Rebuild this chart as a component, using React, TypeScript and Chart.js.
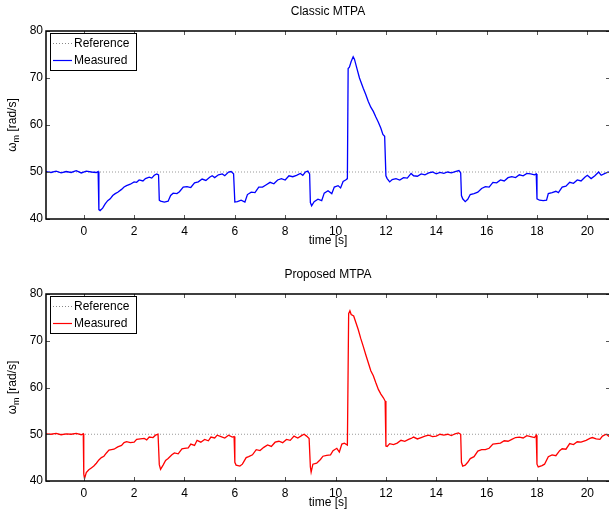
import { useEffect, useRef } from "react";
import { Chart, registerables } from "chart.js";

Chart.register(...registerables);

const xTicks = [0, 2, 4, 6, 8, 10, 12, 14, 16, 18, 20];
const yTicks = [40, 50, 60, 70, 80];
const xRange = [-1.5, 20.9];
const yRange = [40, 80];

const refTime = [-1.5, 20.9];
const refSpeed = [50, 50];

const classicTime = [
  -1.5, -1.3, -1.1, -0.9, -0.7, -0.5, -0.3, -0.1, 0.1, 0.3, 0.5, 0.57,
  0.6, 0.65, 0.75, 0.85, 0.95, 1.05, 1.15, 1.25, 1.35, 1.5, 1.6, 1.7, 1.85, 2.0, 2.1, 2.2, 2.35, 2.45, 2.6, 2.7, 2.8, 2.9, 2.97,
  3.0, 3.05, 3.2, 3.35, 3.45, 3.55, 3.7, 3.8, 3.95, 4.1, 4.25, 4.4, 4.55, 4.7, 4.85, 5.0, 5.1, 5.2, 5.35, 5.5, 5.6, 5.75, 5.85, 5.95,
  6.0, 6.1, 6.25, 6.4, 6.5, 6.65, 6.8, 6.95, 7.1, 7.25, 7.4, 7.55, 7.7, 7.85, 8.0, 8.15, 8.3, 8.45, 8.6, 8.7, 8.8, 8.9, 8.97,
  9.0, 9.05, 9.15, 9.3, 9.45, 9.55, 9.7, 9.85, 9.95, 10.1, 10.2, 10.3, 10.4, 10.47,
  10.5, 10.55, 10.62, 10.7, 10.75, 10.85, 10.95, 11.1, 11.2, 11.3, 11.4, 11.5, 11.6, 11.7, 11.8, 11.88, 11.95,
  12.0, 12.05, 12.15, 12.25, 12.4, 12.55, 12.7, 12.85, 13.0, 13.1, 13.25, 13.4, 13.55, 13.7, 13.85, 14.0, 14.15, 14.3, 14.45, 14.6, 14.75, 14.9, 14.97,
  15.0, 15.05, 15.15, 15.25, 15.35, 15.5, 15.65, 15.8, 15.95, 16.1, 16.25, 16.4, 16.55, 16.7, 16.85, 17.0, 17.15, 17.3, 17.45, 17.6, 17.75, 17.9, 17.97,
  18.0, 18.1, 18.25, 18.38, 18.45, 18.6, 18.75, 18.85, 19.0, 19.15, 19.3, 19.45, 19.6, 19.75, 19.9, 20.0, 20.15, 20.3, 20.45, 20.55, 20.7, 20.85, 20.9,
];
const classicSpeed = [
  50.1, 49.9, 50.2, 49.8, 50.1, 49.9, 50.3, 49.8, 50.2, 50.0, 49.9, 50.1,
  42.0, 41.8, 42.3, 43.2, 43.9, 44.3, 45.0, 45.4, 45.7, 46.3, 46.8, 47.1, 47.4, 47.9, 47.8, 48.3, 48.1, 48.6, 48.9, 48.7, 49.3, 49.6, 49.4,
  44.0, 43.8, 43.6, 43.8, 45.0, 45.5, 45.4, 45.8, 46.8, 46.9, 46.7, 47.7, 47.9, 48.5, 48.2, 48.9, 49.2, 48.8, 49.4, 49.6, 49.2, 50.0, 50.1, 49.6,
  43.6, 43.7, 44.0, 43.6, 45.2, 45.7, 45.6, 46.8, 46.8, 47.3, 47.8, 47.5, 48.3, 48.6, 48.3, 49.2, 49.0, 49.3, 49.7, 49.3, 50.0, 50.2, 49.6,
  43.5, 42.8, 43.7, 44.2, 43.9, 45.5, 46.0, 45.4, 46.8, 47.1, 46.6, 48.0, 48.3, 48.6,
  72.0, 72.3, 73.5, 74.5, 74.0, 72.0, 70.0, 67.8, 66.5, 65.0, 63.8, 62.9, 61.7, 60.6, 59.3, 58.0, 57.6,
  49.2, 48.6, 47.9, 48.4, 48.6, 48.3, 48.8, 48.7, 49.7, 49.2, 49.1, 49.6, 49.4, 49.8, 50.0, 49.6, 49.9, 49.7, 50.0, 49.8, 50.1, 50.3, 49.8,
  45.0, 44.3, 43.7, 44.2, 45.2, 45.4, 45.7, 46.5, 46.9, 46.8, 47.8, 47.7, 48.3, 48.1, 48.8, 49.0, 48.8, 49.4, 49.2, 49.7, 49.6, 49.4, 49.6,
  44.3, 44.0, 43.9, 44.0, 45.4, 45.6, 45.9, 45.6, 46.8, 47.0, 47.8, 47.6, 48.3, 48.1, 48.9, 49.3, 48.6, 49.2, 50.0, 49.3, 49.7, 50.0, 49.8,
];

const proposedTime = [
  -1.5, -1.3, -1.1, -0.9, -0.7, -0.5, -0.3, -0.1, -0.02,
  0.0, 0.03, 0.1, 0.2, 0.3, 0.4, 0.5, 0.6, 0.7, 0.8, 0.9, 1.0, 1.1, 1.2, 1.35, 1.5, 1.6, 1.7, 1.85, 2.0, 2.1, 2.25, 2.4, 2.5, 2.6, 2.75, 2.85, 2.95,
  3.0, 3.05, 3.15, 3.25, 3.35, 3.5, 3.6, 3.75, 3.9, 4.0, 4.15, 4.25, 4.4, 4.5, 4.65, 4.8, 4.95, 5.05, 5.2, 5.3, 5.45, 5.6, 5.75, 5.9, 5.97,
  6.0, 6.05, 6.2, 6.3, 6.45, 6.55, 6.7, 6.85, 7.0, 7.15, 7.3, 7.45, 7.6, 7.75, 7.9, 8.05, 8.2, 8.35, 8.5, 8.65, 8.75, 8.85, 8.95,
  9.0, 9.03, 9.1, 9.25, 9.4, 9.5, 9.65, 9.8, 9.9, 10.05, 10.15, 10.25, 10.35, 10.47,
  10.52, 10.57, 10.62, 10.72, 10.8, 10.9, 11.0, 11.1, 11.2, 11.3, 11.4, 11.5, 11.6, 11.7, 11.8, 11.9, 11.97,
  12.0, 12.05, 12.15, 12.3, 12.45, 12.6, 12.75, 12.9, 13.0, 13.1, 13.25, 13.4, 13.55, 13.7, 13.85, 14.0, 14.15, 14.3, 14.45, 14.6, 14.75, 14.88, 14.97,
  15.0, 15.05, 15.15, 15.25, 15.35, 15.5, 15.65, 15.8, 15.95, 16.1, 16.25, 16.4, 16.55, 16.7, 16.85, 17.0, 17.15, 17.3, 17.45, 17.6, 17.75, 17.9, 17.97,
  18.0, 18.05, 18.2, 18.3, 18.45, 18.6, 18.75, 18.9, 19.0, 19.15, 19.3, 19.45, 19.6, 19.75, 19.95, 20.1, 20.2, 20.35, 20.5, 20.6, 20.75, 20.85, 20.9,
];
const proposedSpeed = [
  50.1, 50.0, 50.2, 49.9, 50.1, 50.0, 50.2, 49.9, 50.1,
  41.5, 40.5, 41.8, 42.4, 42.8, 43.2, 43.8, 44.5, 45.0, 45.3, 46.0, 46.6, 46.7, 46.8, 47.3, 47.6, 48.2, 48.4, 48.2, 48.3, 48.9, 49.0, 49.1, 48.8, 49.4, 49.3, 49.8, 50.0,
  43.5, 42.5, 43.4, 44.4, 44.8, 45.6, 46.0, 45.8, 46.9, 47.0, 47.1, 47.9, 47.6, 48.7, 48.3, 48.9, 48.6, 49.4, 49.2, 49.8, 49.5, 49.2, 49.8, 49.4, 49.5,
  44.0, 43.4, 43.2, 43.6, 45.0, 45.2, 45.6, 46.7, 46.5, 47.2, 47.7, 47.4, 48.3, 48.5, 48.2, 48.9, 48.7, 49.6, 49.2, 49.7, 50.0, 49.6, 49.1,
  43.0, 41.9, 43.6, 43.8, 44.6, 45.3, 45.5, 45.6, 46.5, 47.0, 46.2, 47.9, 48.1, 47.7,
  75.8, 76.4, 75.6, 75.3, 74.0, 72.4, 70.5, 68.8, 67.0, 65.3, 63.6, 62.5, 61.0, 59.6, 58.6, 57.8, 57.1,
  47.5, 47.4, 48.0, 47.8, 48.1, 48.7, 48.5, 48.9, 49.1, 49.4, 49.0, 49.3, 49.6, 49.8, 49.5, 49.6, 50.0, 49.8, 50.0, 49.7, 50.1, 50.3, 50.0,
  44.0, 43.2, 43.4, 44.0, 44.8, 45.2, 46.4, 46.7, 46.7, 47.0, 47.9, 48.0, 48.1, 48.6, 48.5, 48.9, 49.3, 49.4, 49.2, 49.7, 49.5, 49.3, 49.8,
  43.6, 43.0, 43.3, 43.6, 45.2, 45.6, 45.4, 46.5, 46.9, 46.8, 48.0, 47.8, 48.4, 48.3, 48.7, 49.1, 49.3, 49.0, 48.9, 49.6, 50.0, 49.6, 49.4,
];

const FONT = '"Liberation Sans", Arial, Helvetica, sans-serif';

function pts(t: number[], v: number[]) {
  return t.map((x, i) => ({ x, y: v[i] }));
}

function makeDecor(title: string, color: string) {
  return {
    id: "decor",
    afterDatasetsDraw(chart: any) {
      const { ctx, chartArea: a, scales } = chart;
      const xs = scales.x;
      const ys = scales.y;
      ctx.save();
      // inward tick marks
      ctx.strokeStyle = "#555";
      ctx.lineWidth = 1;
      ctx.beginPath();
      for (const v of xTicks) {
        const px = Math.round(xs.getPixelForValue(v)) + 0.5;
        ctx.moveTo(px, a.bottom);
        ctx.lineTo(px, a.bottom - 4);
        ctx.moveTo(px, a.top);
        ctx.lineTo(px, a.top + 4);
      }
      for (const v of yTicks) {
        const py = Math.round(ys.getPixelForValue(v)) + 0.5;
        ctx.moveTo(a.left, py);
        ctx.lineTo(a.left + 4, py);
        ctx.moveTo(a.right, py);
        ctx.lineTo(a.right - 4, py);
      }
      ctx.stroke();
      // box
      ctx.strokeStyle = "#000";
      ctx.lineWidth = 1.5;
      ctx.strokeRect(a.left, a.top, a.right - a.left, a.bottom - a.top);

      // legend
      const lx = a.left + 4;
      const ly = a.top + 2;
      const lw = 86;
      const lh = 37;
      ctx.fillStyle = "#fff";
      ctx.fillRect(lx, ly, lw, lh);
      ctx.strokeStyle = "#000";
      ctx.lineWidth = 1;
      ctx.strokeRect(lx + 0.5, ly + 0.5, lw, lh);
      ctx.font = `12px ${FONT}`;
      ctx.textAlign = "left";
      ctx.textBaseline = "middle";
      const r1 = ly + 10.5;
      const r2 = ly + 27.5;
      ctx.strokeStyle = "#888";
      ctx.lineWidth = 1;
      ctx.setLineDash([1, 2]);
      ctx.beginPath();
      ctx.moveTo(lx + 3, r1);
      ctx.lineTo(lx + 22, r1);
      ctx.stroke();
      ctx.setLineDash([]);
      ctx.strokeStyle = color;
      ctx.lineWidth = 1.2;
      ctx.beginPath();
      ctx.moveTo(lx + 3, r2);
      ctx.lineTo(lx + 22, r2);
      ctx.stroke();
      ctx.fillStyle = "#000";
      ctx.fillText("Reference", lx + 24, r1 + 0.5);
      ctx.fillText("Measured", lx + 24, r2 + 0.5);

      // title and x label
      const cx = (a.left + a.right) / 2;
      ctx.textAlign = "center";
      ctx.font = `12px ${FONT}`;
      ctx.fillText(title, cx, a.top - 19);
      ctx.fillText("time [s]", cx, a.bottom + 22);

      // y label with subscript
      ctx.translate(13, (a.top + a.bottom) / 2);
      ctx.rotate(-Math.PI / 2);
      const big = `12px ${FONT}`;
      const small = `9px ${FONT}`;
      ctx.font = big;
      const w1 = ctx.measureText("ω").width;
      const w3 = ctx.measureText(" [rad/s]").width;
      ctx.font = small;
      const w2 = ctx.measureText("m").width;
      let x0 = -(w1 + w2 + w3) / 2;
      ctx.textAlign = "left";
      ctx.font = big;
      ctx.fillText("ω", x0, 0);
      x0 += w1;
      ctx.font = small;
      ctx.fillText("m", x0, 4);
      x0 += w2;
      ctx.font = big;
      ctx.fillText(" [rad/s]", x0, 0);
      ctx.restore();
    },
  };
}

function makeConfig(
  time: number[],
  speed: number[],
  color: string,
  title: string,
  padTop: number,
  xHeight: number
): any {
  return {
    type: "line",
    data: {
      datasets: [
        {
          data: pts(time, speed),
          borderColor: color,
          borderWidth: 1.3,
          pointRadius: 0,
          tension: 0,
          order: 0,
        },
        {
          data: pts(refTime, refSpeed),
          borderColor: "#999",
          borderWidth: 1,
          borderDash: [1, 2],
          pointRadius: 0,
          order: 1,
        },
      ],
    },
    options: {
      animation: false,
      responsive: false,
      devicePixelRatio: 1,
      layout: { padding: { top: padTop, right: 10, bottom: 0, left: 0 } },
      plugins: {
        legend: { display: false },
        tooltip: { enabled: false },
        title: { display: false },
      },
      scales: {
        x: {
          type: "linear",
          min: xRange[0],
          max: xRange[1],
          grid: { display: false, drawTicks: false, tickLength: 0 },
          border: { display: false },
          afterBuildTicks: (s: any) => {
            s.ticks = xTicks.map((v) => ({ value: v }));
          },
          afterFit: (s: any) => {
            s.height = xHeight;
          },
          ticks: {
            autoSkip: false,
            maxRotation: 0,
            padding: 5,
            color: "#000",
            font: { family: FONT, size: 12 },
          },
        },
        y: {
          type: "linear",
          min: yRange[0],
          max: yRange[1],
          grid: { display: false, drawTicks: false, tickLength: 0 },
          border: { display: false },
          afterBuildTicks: (s: any) => {
            s.ticks = yTicks.map((v) => ({ value: v }));
          },
          afterFit: (s: any) => {
            s.width = 46;
          },
          ticks: {
            autoSkip: false,
            padding: 3,
            color: "#000",
            font: { family: FONT, size: 12 },
          },
        },
      },
    },
    plugins: [makeDecor(title, color)],
  };
}

export default function App() {
  const topRef = useRef<HTMLCanvasElement>(null);
  const botRef = useRef<HTMLCanvasElement>(null);

  useEffect(() => {
    document.body.style.margin = "0";
    const c1 = new Chart(
      topRef.current as HTMLCanvasElement,
      makeConfig(classicTime, classicSpeed, "#0000ff", "Classic MTPA", 31, 37)
    );
    const c2 = new Chart(
      botRef.current as HTMLCanvasElement,
      makeConfig(proposedTime, proposedSpeed, "#ff0000", "Proposed MTPA", 38, 32)
    );
    return () => {
      c1.destroy();
      c2.destroy();
    };
  }, []);

  return (
    <div
      style={{
        position: "relative",
        width: 609,
        height: 513,
        overflow: "hidden",
        background: "#fff",
      }}
    >
      <canvas
        ref={topRef}
        width={620}
        height={256}
        style={{ position: "absolute", left: 0, top: 0, width: 620, height: 256 }}
      />
      <canvas
        ref={botRef}
        width={620}
        height={257}
        style={{ position: "absolute", left: 0, top: 256, width: 620, height: 257 }}
      />
    </div>
  );
}
